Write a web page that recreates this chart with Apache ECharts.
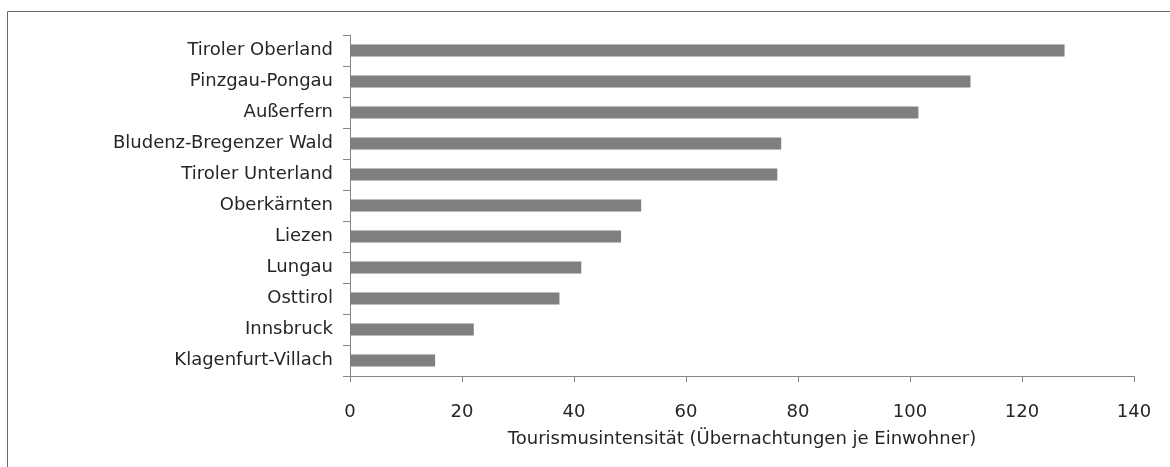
<!DOCTYPE html>
<html>
<head>
<meta charset="utf-8">
<script src="https://cdn.jsdelivr.net/npm/echarts@6/dist/echarts.min.js"></script>
<style>
	html, body { margin: 0; padding: 0; background: #fff; }
	#barChart { width: 1170px; height: 467px; }
</style>
</head>
<body>
<div id="barChart"></div>
<script>
var regions = ['Tiroler Oberland', 'Pinzgau-Pongau', 'Außerfern', 'Bludenz-Bregenzer Wald', 'Tiroler Unterland',
	'Oberkärnten', 'Liezen', 'Lungau', 'Osttirol', 'Innsbruck', 'Klagenfurt-Villach'];
var intensity = [127.6, 110.8, 101.5, 77.0, 76.3, 52.0, 48.4, 41.3, 37.4, 22.1, 15.2];
var xTicks = [0, 20, 40, 60, 80, 100, 120, 140];
var axisTitle = 'Tourismusintensität (Übernachtungen je Einwohner)';

/**
 * Balkendiagramm
 */
function barChart() {
	var myChart = echarts.init(document.getElementById('barChart'));
	var font = '"DejaVu Sans", sans-serif';
	var textColor = '#262626';
	var option = {
		animation: false,
		color: ['#7f7f7f'],
		textStyle: { fontFamily: font },
		graphic: [{
			type: 'rect',
			shape: { x: 7.5, y: 11.5, width: 1200, height: 500 },
			style: { fill: 'none', stroke: '#6a6a6a', lineWidth: 1 }
		}],
		grid: {
			left: 350,
			top: 35,
			width: 784,
			height: 341
		},
		xAxis: {
			type: 'value',
			min: xTicks[0],
			max: xTicks[xTicks.length - 1],
			interval: 20,
			name: axisTitle,
			nameLocation: 'middle',
			nameGap: 54,
			nameTextStyle: { fontSize: 18, color: textColor, fontFamily: font },
			axisLine: { show: true, lineStyle: { color: '#868686', width: 1 } },
			axisTick: { show: true, length: 6, lineStyle: { color: '#868686' } },
			axisLabel: { fontSize: 18, color: textColor, margin: 27, fontFamily: font },
			splitLine: { show: false }
		},
		yAxis: {
			type: 'category',
			inverse: true,
			data: regions,
			axisLine: { show: true, lineStyle: { color: '#868686', width: 1 } },
			axisTick: { show: true, length: 7, lineStyle: { color: '#868686' } },
			axisLabel: { fontSize: 18, color: textColor, margin: 17, fontFamily: font }
		},
		series: [{
			type: 'bar',
			barWidth: 12,
			data: intensity,
			itemStyle: { color: '#7f7f7f' }
		}]
	};
	myChart.setOption(option);
}

barChart();
</script>
</body>
</html>
